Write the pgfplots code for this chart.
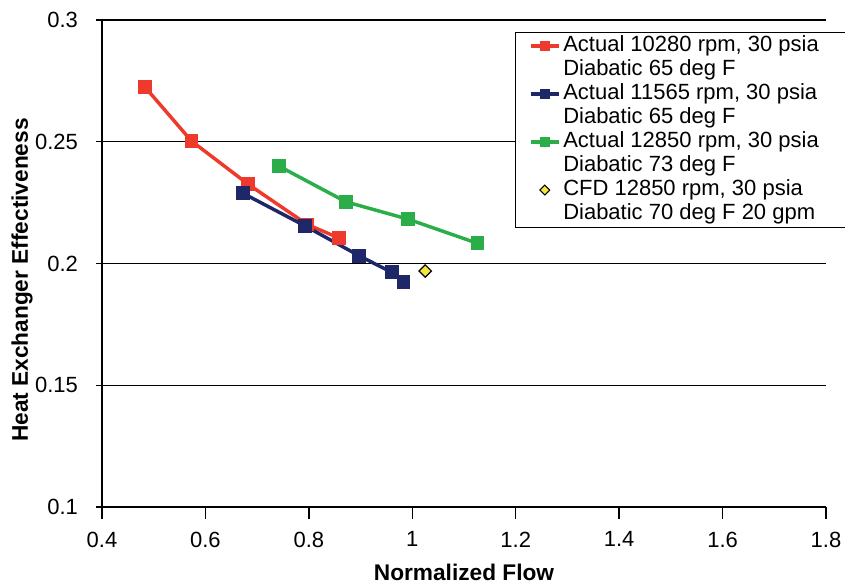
\documentclass[border=0pt]{standalone}
\usepackage{pgfplots}
\pgfplotsset{compat=1.18}
\usepackage{fontspec}
\setmainfont{Liberation Sans}
\definecolor{cred}{HTML}{EE3A2C}
\definecolor{cblue}{HTML}{1E2768}
\definecolor{cgreen}{HTML}{2BAE4A}
\definecolor{cyel}{HTML}{F4E63C}
\begin{document}
\begin{tikzpicture}
\begin{axis}[
  scale only axis, width=543pt, height=365.25pt,
  xmin=0.4, xmax=1.8, ymin=0.1, ymax=0.3,
  xtick={0.4,0.6,0.8,1,1.2,1.4,1.6,1.8},
  ytick={0.1,0.15,0.2,0.25,0.3},
  yticklabels={0.1,0.15,0.2,0.25,0.3},
  axis x line*=bottom, axis y line*=left,
  axis line style={-, black, line width=1.1pt},
  ymajorgrids, grid style={black, line width=1.1pt},
  major tick style={black, line width=1.1pt},
  xtick align=outside, ytick align=center,
  major tick length=9pt,
  tick label style={font=\fontsize{16.5}{19}\selectfont},
  xticklabel style={yshift=-6pt},
  yticklabel style={xshift=-10pt},
  /pgf/number format/assume math mode=true,
  label style={font=\bfseries\fontsize{17}{20}\selectfont},
  xlabel={Normalized Flow},
  ylabel={Heat Exchanger Effectiveness},
  xlabel style={at={(axis description cs:0.5,0)}, anchor=base, yshift=-55pt},
  ylabel style={at={(axis description cs:-0.1105,0.466)}, anchor=center},
  clip=false,
  legend style={at={(0.5704,0.9754)}, anchor=north west, draw=black, line width=1.1pt,
    fill=white, font=\fontsize{16.5}{19}\selectfont, inner xsep=10pt, inner ysep=1pt,
    row sep=0pt, column sep=2pt,
    nodes={inner sep=0pt, text height=13pt, text depth=5pt}},
  legend cell align=left,
  legend image code/.code={\draw[mark repeat=2,mark phase=2] plot coordinates {(0cm,0cm)(0.37cm,0cm)(0.74cm,0cm)};},
]
\addplot[cred, line width=2.6pt, mark=square*, mark size=3.9pt, forget plot] coordinates {
 (0.483,0.2725) (0.573,0.2503) (0.683,0.2325) (0.797,0.2160) (0.858,0.2105)};
\addplot[cblue, line width=2.6pt, mark=square*, mark size=3.9pt, forget plot] coordinates {
 (0.672,0.2289) (0.793,0.2154) (0.897,0.2032) (0.960,0.1964) (0.983,0.1924)};
\addplot[cgreen, line width=2.6pt, mark=square*, mark size=3.9pt, forget plot] coordinates {
 (0.742,0.2400) (0.872,0.2253) (0.992,0.2182) (1.126,0.2083)};
\addplot[only marks, mark=square*, mark size=3.3pt, mark options={rotate=45, draw=black, fill=cyel, line width=0.9pt}, forget plot] coordinates {
 (1.025,0.1969)};
\addlegendimage{cred, line width=2.6pt, mark=square*, mark size=2.6pt}
\addlegendentry{Actual 10280 rpm, 30 psia\hspace*{20pt}}
\addlegendimage{empty legend}
\addlegendentry{Diabatic 65 deg F}
\addlegendimage{cblue, line width=2.6pt, mark=square*, mark size=2.6pt}
\addlegendentry{Actual 11565 rpm, 30 psia}
\addlegendimage{empty legend}
\addlegendentry{Diabatic 65 deg F}
\addlegendimage{cgreen, line width=2.6pt, mark=square*, mark size=2.6pt}
\addlegendentry{Actual 12850 rpm, 30 psia}
\addlegendimage{empty legend}
\addlegendentry{Diabatic 73 deg F}
\addlegendimage{only marks, mark=square*, mark size=2.6pt, mark options={rotate=45, draw=black, fill=cyel, line width=0.8pt}}
\addlegendentry{CFD 12850 rpm, 30 psia}
\addlegendimage{empty legend}
\addlegendentry{Diabatic 70 deg F 20 gpm}
\coordinate (SW) at (rel axis cs:0,0);
\coordinate (NE) at (rel axis cs:1,1);
\end{axis}
\pgfresetboundingbox
\path[use as bounding box] ([shift={(-76.5pt,-59.25pt)}]SW) rectangle ([shift={(14.25pt,15pt)}]NE);
\end{tikzpicture}
\end{document}
